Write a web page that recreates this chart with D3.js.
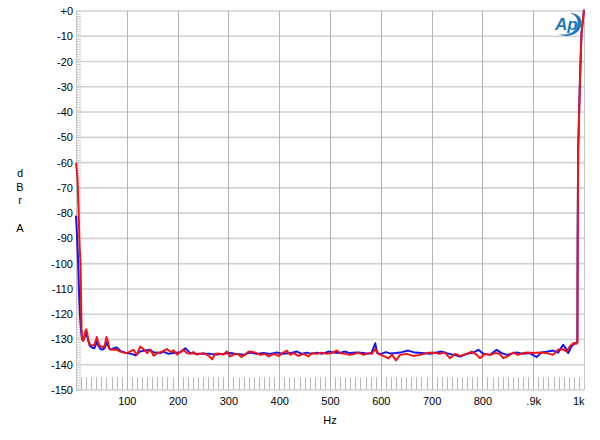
<!DOCTYPE html>
<html>
<head>
<meta charset="utf-8">
<script src="https://cdn.jsdelivr.net/npm/d3@7"></script>
<style>
  html, body { margin: 0; padding: 0; background: #ffffff; }
  svg { display: block; font-family: "Liberation Sans", Arial, sans-serif; }
</style>
</head>
<body>
<svg id="chart" width="600" height="440"></svg>
<script>
// ---------- data ----------
const xTickValues = [100, 200, 300, 400, 500, 600, 700, 800, 900, 1000];
const xTickLabels = ["100", "200", "300", "400", "500", "600", "700", "800", ".9k", "1k"];
const yTickValues = [0, -10, -20, -30, -40, -50, -60, -70, -80, -90, -100, -110, -120, -130, -140, -150];
const yTickLabels = ["+0", "-10", "-20", "-30", "-40", "-50", "-60", "-70", "-80", "-90", "-100", "-110", "-120", "-130", "-140", "-150"];

const blueFreq = [0, 2, 4, 6, 8, 10, 12, 14, 17, 20, 23, 27, 32, 36, 39, 41, 44, 48, 52, 56, 59, 61, 64, 68, 74, 80, 87,
  100, 110, 117, 126, 136, 146, 153, 166, 172, 182, 192, 205, 215, 225, 238, 251, 264, 277, 290, 303, 316, 330,
  343, 356, 369, 382, 395, 408, 422, 435, 444, 454, 464, 474, 484, 497, 507, 517, 530, 539, 553, 566, 575, 582, 589, 593,
  600, 610, 620, 630, 638, 654, 667, 680, 697, 710, 720, 730, 743, 756, 769, 782, 792, 802, 815, 828, 838, 848, 861, 870,
  880, 893, 907, 916, 929, 939, 949, 959, 966, 969, 975, 982, 987, 987.5, 988.5, 992, 995, 1000];
const blueLevel = [-81, -89, -98.5, -111.6, -121, -126.5, -130, -130.5, -129, -127.3, -129.5, -132.5, -133.3, -133.5, -132, -130.8, -132.5, -133.8, -134, -133.5, -132, -131.2, -133, -134, -133.5, -133.2, -134.5,
  -135.4, -135.7, -136.3, -134.8, -134.4, -134.1, -135.1, -135.4, -134.8, -135.7, -135.4, -135.1, -133.5, -135.4, -135.7, -135.7, -135.7, -136, -135.7, -135.4, -135.7, -136,
  -135.2, -135.7, -135.4, -135.7, -135.2, -135.7, -135.4, -134.8, -135.7, -135.2, -135.7, -135.2, -135.7, -134.8, -135.2, -135.4, -134.8, -135.4, -135.2, -135.4, -135.7, -135.2, -131.5, -135.4,
  -135.8, -135, -135.6, -135.4, -135.2, -134.4, -135.2, -135.4, -135.7, -135.2, -134.8, -135.4, -136.1, -136.8, -135.7, -135.2, -134.1, -135.7, -136.1, -134.1, -135.4, -136.1, -135.4, -135.2,
  -135.7, -135.4, -137, -135.2, -134.8, -134.4, -135.2, -132.1, -134.1, -135.4, -132.8, -131.5, -131.2, -92, -55, -28, -9, 0.5];

const redFreq = [0, 2, 3, 5, 7, 9, 10, 11, 12, 14, 16, 18, 20, 22, 25, 28, 32, 36, 39, 41, 43, 46, 50, 54, 57, 60, 63, 66, 70, 74, 80, 87,
  97, 103, 113, 120, 126, 133, 140, 146, 153, 160, 169, 179, 186, 192, 199, 205, 212, 218, 225, 231, 238, 244, 251, 261, 268, 274, 284, 290, 297, 303, 313, 320, 326, 333, 340,
  353, 363, 372, 379, 389, 399, 408, 415, 422, 428, 438, 448, 458, 464, 474, 484, 494, 503, 513, 520, 530, 539, 549, 556, 566, 575, 582, 589, 595,
  605, 615, 622, 630, 638, 651, 664, 677, 690, 703, 716, 726, 736, 746, 756, 769, 779, 789, 795, 805, 815, 825, 834, 841, 851, 861, 870, 880, 890,
  900, 913, 926, 939, 949, 959, 966, 972, 979, 985, 987, 987.5, 988.5, 992, 995, 1000];
const redLevel = [-60, -64, -67, -78, -93, -100, -115, -126, -130, -130.5, -129.5, -127, -126, -127.5, -131, -132, -132.5, -132, -130.5, -129, -130.5, -132.5, -132.8, -133.1, -132, -129, -131, -133.9, -134, -134.1, -134, -134.8,
  -135.4, -135.1, -134.1, -136.1, -132.8, -133.8, -135.4, -134.1, -136.4, -135.4, -134.8, -133.8, -135, -134.3, -136, -135, -134.1, -135.4, -135.7, -135, -136, -135.7, -135.4, -136.4, -137.8, -135.7, -135.7, -136, -134.8, -136.7, -135.7, -136, -136.9, -136, -134.8,
  -135.2, -136.1, -135.7, -136.7, -135.7, -136.5, -135.2, -134.4, -136.1, -135.4, -136.5, -135.7, -136.7, -135.4, -135.7, -135.2, -135.7, -135.4, -134.4, -135.4, -135.7, -136.1, -135.7, -135.2, -136.1, -135.4, -135.7, -133.8, -135.7,
  -136.5, -137.5, -136, -138.3, -136.1, -135.7, -136.5, -136.1, -135.4, -135.2, -135.7, -135.2, -137.4, -135.7, -136.5, -135.7, -134.8, -136.1, -137.4, -135.7, -136.1, -135.4, -135.7, -137.4, -136.5, -135.2, -136.1, -135.4, -135.2,
  -135.4, -135.2, -135.4, -136.1, -134.1, -133.9, -134.8, -132.8, -131.5, -131.7, -131, -92, -55, -28, -9, 0.5];

// ---------- layout ----------
const svg = d3.select("#chart");
const plotL = 76, plotR = 584, plotT = 11, plotB = 390;
const x = d3.scaleLinear().domain([0, 1000]).range([plotL, plotR]);
const y = d3.scaleLinear().domain([-150, 0]).range([plotB, plotT]);

// minor ticks (left, every 1 dB) and bottom (every 10 Hz)
const minorY = d3.range(-150, 0.01, 1);
svg.append("g").selectAll("line").data(minorY).join("line")
  .attr("x1", plotL).attr("x2", plotL + 5)
  .attr("y1", d => y(d) + 0.5).attr("y2", d => y(d) + 0.5)
  .attr("stroke", "#c8c8c8").attr("stroke-width", 1);
const minorX = d3.range(10, 1000, 10);
svg.append("g").selectAll("line").data(minorX).join("line")
  .attr("x1", d => Math.round(x(d)) + 0.5).attr("x2", d => Math.round(x(d)) + 0.5)
  .attr("y1", y(-145)).attr("y2", plotB)
  .attr("stroke", "#b8b8b8").attr("stroke-width", 1);

// gridlines
svg.append("g").selectAll("line").data(yTickValues).join("line")
  .attr("x1", plotL).attr("x2", plotR)
  .attr("y1", d => y(d)).attr("y2", d => y(d))
  .attr("stroke", "#d2d2d2").attr("stroke-width", 1.6);
svg.append("g").selectAll("line").data([0].concat(xTickValues)).join("line")
  .attr("x1", d => Math.round(x(d)) + 0.5).attr("x2", d => Math.round(x(d)) + 0.5)
  .attr("y1", plotT).attr("y2", plotB)
  .attr("stroke", d => (d === 0 || d === 1000) ? "#c4c4c4" : "#b4b4b4").attr("stroke-width", 1);

// axes labels via d3 axes
const yAxis = d3.axisLeft(y).tickValues(yTickValues)
  .tickFormat((d, i) => yTickLabels[i]).tickSize(0).tickPadding(3);
const gy = svg.append("g").attr("transform", `translate(${plotL},0)`).call(yAxis);
gy.select(".domain").remove();
gy.selectAll("text").attr("font-size", 11).attr("fill", "#000")
  .attr("font-family", "Liberation Sans, Arial, sans-serif");

const xAxis = d3.axisBottom(x).tickValues(xTickValues)
  .tickFormat((d, i) => xTickLabels[i]).tickSize(0).tickPadding(7);
const gx = svg.append("g").attr("transform", `translate(0,${plotB})`).call(xAxis);
gx.select(".domain").remove();
gx.selectAll("text").attr("font-size", 11).attr("fill", "#000")
  .attr("font-family", "Liberation Sans, Arial, sans-serif")
  .attr("text-anchor", d => d === 1000 ? "end" : "middle");

// axis titles
const yTitle = [["d", 177], ["B", 191], ["r", 204], ["A", 232]];
svg.append("g").selectAll("text").data(yTitle).join("text")
  .attr("x", 20).attr("y", d => d[1]).attr("text-anchor", "middle")
  .attr("font-size", 11).attr("fill", "#000").text(d => d[0]);
svg.append("text").attr("x", 330).attr("y", 424).attr("text-anchor", "middle")
  .attr("font-size", 11).attr("fill", "#000").text("Hz");

// traces
const line = d3.line().x(d => x(d[0])).y(d => y(d[1]));
const blueData = d3.zip(blueFreq, blueLevel);
const redData = d3.zip(redFreq, redLevel);
svg.append("path").datum(blueData).attr("d", line)
  .attr("fill", "none").attr("stroke", "#1414f0").attr("stroke-width", 2)
  .attr("stroke-linejoin", "round");
svg.append("path").datum(redData).attr("d", line)
  .attr("fill", "none").attr("stroke", "#f01414").attr("stroke-width", 2)
  .attr("stroke-linejoin", "round");

// AP logo
const logo = svg.append("g").attr("transform", "translate(552,12)");
logo.append("path")
  .attr("d", "M6,22 C14,26 26,24 29,14 C31,6 26,1 18,1 C24,3 27,8 25,14 C23,21 14,24 6,22 Z")
  .attr("fill", "#1d78c0");
logo.append("text").attr("x", 3).attr("y", 18)
  .attr("font-size", 17).attr("font-style", "italic").attr("font-weight", "bold")
  .attr("fill", "#1d78c0").attr("font-family", "Liberation Sans, Arial, sans-serif")
  .text("Ap");
</script>
</body>
</html>
